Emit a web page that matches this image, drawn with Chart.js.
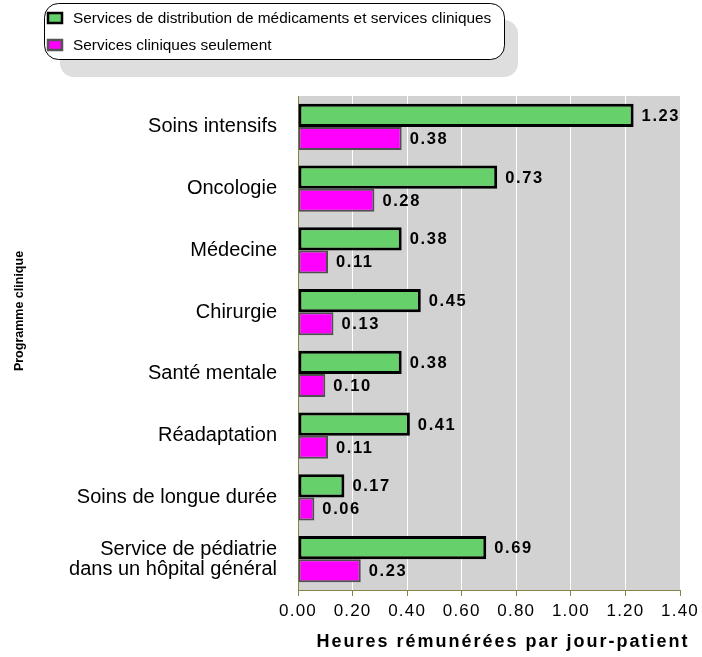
<!DOCTYPE html>
<html>
<head>
<meta charset="utf-8">
<script src="https://cdn.jsdelivr.net/npm/chart.js@4.4.0/dist/chart.umd.min.js"></script>
<style>
  html, body { margin: 0; padding: 0; background: #fff; }
</style>
</head>
<body>
<canvas id="myChart" width="702" height="657"></canvas>
<script>
// data
const programmes = [
  "Soins intensifs",
  "Oncologie",
  "Médecine",
  "Chirurgie",
  "Santé mentale",
  "Réadaptation",
  "Soins de longue durée",
  ["Service de pédiatrie", "dans un hôpital général"],
];
const distribEtCliniques = [1.23, 0.73, 0.38, 0.45, 0.38, 0.41, 0.17, 0.69];
const cliniquesSeulement = [0.38, 0.28, 0.11, 0.13, 0.10, 0.11, 0.06, 0.23];
const seriesLabels = [
  "Services de distribution de médicaments et services cliniques",
  "Services cliniques seulement",
];
const xTitle = "Heures rémunérées par jour-patient";
const yTitle = "Programme clinique";

const axisColor = "#85854a";
const plotBg = "#d2d2d2";

function roundedRect(ctx, x, y, w, h, r) {
  ctx.beginPath();
  ctx.moveTo(x + r, y);
  ctx.arcTo(x + w, y, x + w, y + h, r);
  ctx.arcTo(x + w, y + h, x, y + h, r);
  ctx.arcTo(x, y + h, x, y, r);
  ctx.arcTo(x, y, x + w, y, r);
  ctx.closePath();
}

// legend box, plot background, value labels and axis titles
const extras = {
  id: "extras",
  beforeDraw(chart) {
    const ctx = chart.ctx;
    const area = chart.chartArea;
    ctx.letterSpacing = "0px";
    ctx.save();
    ctx.fillStyle = plotBg;
    ctx.fillRect(area.left, area.top, area.right - area.left, area.bottom - area.top);

    // legend shadow + box
    ctx.fillStyle = "#dedede";
    roundedRect(ctx, 60, 20, 458, 57, 14);
    ctx.fill();
    ctx.fillStyle = "#fff";
    ctx.strokeStyle = "#000";
    ctx.lineWidth = 1;
    roundedRect(ctx, 44.5, 3.5, 460, 56, 14);
    ctx.fill();
    ctx.stroke();

    ctx.font = "15.4px 'Liberation Sans', Arial, sans-serif";
    ctx.textBaseline = "middle";
    chart.data.datasets.forEach((ds, i) => {
      const y = 18 + i * 27;
      ctx.fillStyle = ds.backgroundColor;
      ctx.fillRect(48, y - 5, 14, 10);
      ctx.strokeStyle = i === 0 ? "#000" : "#555";
      ctx.lineWidth = 2.5;
      ctx.strokeRect(48, y - 5, 14, 10);
      ctx.fillStyle = "#000";
      ctx.fillText(ds.label, 73, y + 1);
    });
    ctx.restore();
  },
  afterDatasetsDraw(chart) {
    const ctx = chart.ctx;
    ctx.save();
    ctx.font = "bold 16.5px 'Liberation Sans', Arial, sans-serif";
    ctx.letterSpacing = "1.6px";
    ctx.fillStyle = "#000";
    ctx.textBaseline = "middle";
    ctx.textAlign = "left";
    chart.data.datasets.forEach((ds, i) => {
      const meta = chart.getDatasetMeta(i);
      meta.data.forEach((bar, j) => {
        ctx.fillText(ds.data[j].toFixed(2), bar.x + 8, bar.y + 1);
      });
    });
    ctx.restore();
    // x tick labels (z: 1) are drawn after this, keep the spacing for them
    ctx.letterSpacing = "1.2px";
  },
  afterDraw(chart) {
    const ctx = chart.ctx;
    ctx.letterSpacing = "0px";
    ctx.save();
    ctx.fillStyle = "#000";
    ctx.textAlign = "center";
    ctx.textBaseline = "alphabetic";
    ctx.font = "bold 18px 'Liberation Sans', Arial, sans-serif";
    ctx.letterSpacing = "2px";
    ctx.fillText(xTitle, 503, 647);
    ctx.letterSpacing = "0px";
    ctx.translate(20, 311);
    ctx.rotate(-Math.PI / 2);
    ctx.textBaseline = "middle";
    ctx.font = "bold 12.5px 'Liberation Sans', Arial, sans-serif";
    ctx.fillText(yTitle, 0, 0);
    ctx.restore();
  },
};

const data = {
  labels: programmes,
  datasets: [
    {
      label: seriesLabels[0],
      data: distribEtCliniques,
      backgroundColor: "#66d06a",
      borderColor: "#000",
      borderWidth: 3,
      borderSkipped: false,
    },
    {
      label: seriesLabels[1],
      data: cliniquesSeulement,
      backgroundColor: "#ff00ff",
      borderColor: "#505050",
      borderWidth: 2,
      borderSkipped: false,
    },
  ],
};

const config = {
  type: "bar",
  data: data,
  options: {
    indexAxis: "y",
    responsive: false,
    animation: false,
    layout: { padding: { top: 96, right: 22, left: 0, bottom: 0 } },
    datasets: {
      bar: { categoryPercentage: 0.745, barPercentage: 1 },
    },
    plugins: {
      legend: { display: false },
      tooltip: { enabled: false },
    },
    scales: {
      x: {
        min: 0,
        max: 1.4,
        ticks: {
          stepSize: 0.2,
          z: 1,
          color: "#000",
          padding: 5,
          font: { family: "'Liberation Sans', Arial, sans-serif", size: 17 },
          callback: (v) => Number(v).toFixed(2),
        },
        grid: {
          color: "#fff",
          lineWidth: 1,
          drawTicks: true,
          tickLength: 6,
          tickColor: axisColor,
        },
        border: { display: true, color: axisColor, width: 1 },
        afterFit: (scale) => {
          scale.height = 657 - 590;
        },
      },
      y: {
        ticks: {
          color: "#000",
          padding: 13,
          font: {
            family: "'Liberation Sans', Arial, sans-serif",
            size: 20,
            lineHeight: 1.0,
          },
        },
        grid: { display: false },
        border: { display: true, color: axisColor, width: 1 },
        afterFit: (scale) => {
          scale.width = 298;
        },
      },
    },
  },
  plugins: [extras],
};

const myChart = new Chart(document.getElementById("myChart"), config);
</script>
</body>
</html>
